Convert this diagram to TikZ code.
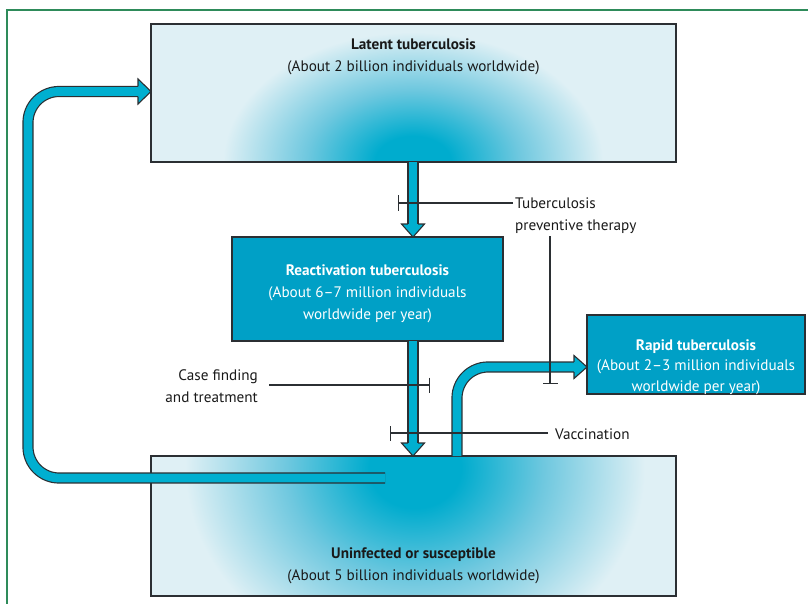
\documentclass[tikz,border=0pt]{standalone}
\usepackage{fontspec}
\setmainfont{PT Sans}
\usetikzlibrary{arrows.meta}
\definecolor{tblight}{HTML}{DFF0F5}
\definecolor{tbteal}{HTML}{00A0C6}
\definecolor{tbglowc}{HTML}{00ACCE}
\definecolor{tbmid}{HTML}{6FC8DF}
\definecolor{tbarrow}{HTML}{00AFD0}
\definecolor{tbedge}{HTML}{2B2F33}
\definecolor{tbframe}{HTML}{2E8B5A}
\pgfdeclareradialshading{tbglow}{\pgfpoint{0bp}{0bp}}{color(0bp)=(tbglowc); color(5bp)=(tbglowc); color(14bp)=(tbmid); color(25bp)=(tblight); color(50bp)=(tblight)}
\tikzset{
  box/.style={draw=tbedge, line width=1.1pt, anchor=north west, inner sep=0pt, outer sep=0pt},
  lightbox/.style={box},
  tealbox/.style={box, fill=tbteal},
  txt/.style={font=\fontsize{15.2}{22}\selectfont, align=center, inner sep=0pt, text=black!90},
  wtxt/.style={txt, text=white},
  shaftout/.style={draw=tbedge, line width=11.2pt, line cap=butt},
  shaftin/.style={draw=tbarrow, line width=8.8pt, line cap=butt},
  headfill/.style={fill=tbarrow},
  headline/.style={draw=tbedge, line width=1.1pt, line join=miter},
  inhib/.style={draw=tbedge, line width=1.2pt, -{Bar[width=15pt,line width=1.3pt]}},
  glow/.style={shading=tbglow}
}
\begin{document}
\begin{tikzpicture}[x=1pt,y=-1pt]
\useasboundingbox (0,0) rectangle (808,604);
% frame
\draw[tbframe, line width=1.2pt] (808,10) -- (7,10) -- (7,604);

% glow backgrounds
\fill[tblight] (151,24) rectangle (676,162);
\begin{scope}
  \clip (151,24) rectangle (676,162);
  \shade[glow] (413,162) ellipse (190 and 130);
\end{scope}
\fill[tblight] (151,456) rectangle (676,596);
\begin{scope}
  \clip (151,456) rectangle (676,596);
  \shade[glow] (415,468) ellipse (230 and 200);
\end{scope}

% boxes
\node[lightbox, minimum width=525pt, minimum height=138pt] (latent) at (151,24) {};
\node[lightbox, minimum width=525pt, minimum height=140pt] (uninf) at (151,456) {};
\node[tealbox, minimum width=271pt, minimum height=104pt] (react) at (232,237) {};
\node[tealbox, minimum width=218pt, minimum height=79pt] (rapid) at (587,315) {};

% texts
\node[txt] (latentT) at (413.5,57) {\textbf{Latent tuberculosis}\\(About 2 billion individuals worldwide)};
\node[wtxt] (reactT) at (367.5,293.5) {\textbf{Reactivation tuberculosis}\\(About 6–7 million individuals\\worldwide per year)};
\node[wtxt, font=\fontsize{15.2}{20.5}\selectfont] (rapidT) at (696,367) {\textbf{Rapid tuberculosis}\\(About 2–3 million individuals\\worldwide per year)};
\node[txt] (uninfT) at (413.5,566) {\textbf{Uninfected or susceptible}\\(About 5 billion individuals worldwide)};
\node[txt, align=left, anchor=west] (tpt) at (515,216) {Tuberculosis\\preventive therapy};
\node[txt, align=right, anchor=east] (cft) at (258,386) {Case finding\\and treatment};
\node[txt, align=left, anchor=west] (vac) at (555,434) {Vaccination};

% coordinates
\coordinate (loopS) at (385,478);
\coordinate (loopB) at (138,91.5);
\coordinate (l2rS) at (latent.south -| 413,0);
\coordinate (l2rB) at (413,224);
\coordinate (r2uS) at (react.south -| 413,0);
\coordinate (r2uB) at (413,443);
\coordinate (rapS) at (uninf.north -| 457,0);
\coordinate (rapB) at (574,367);

% shafts
\foreach \s in {shaftout,shaftin}{
  \draw[\s, rounded corners=31pt] (loopS) -- (28,478) -- (28,91.5) -- (loopB);
  \draw[\s] (l2rS) -- (l2rB);
  \draw[\s] (r2uS) -- (r2uB);
  \draw[\s, rounded corners=31pt] (rapS) -- (457,367) -- (rapB);
}
% heads: loop (right)
\fill[headfill] (138,79) -- (latent.west |- 0,91.5) -- (138,104) -- cycle;
\draw[headline] (138,86.4) -- (138,79) -- (latent.west |- 0,91.5) -- (138,104) -- (138,96.6);
% latent -> react (down)
\fill[headfill] (401.5,224) -- (react.north -| 413,0) -- (424.5,224) -- cycle;
\draw[headline] (407.9,224) -- (401.5,224) -- (react.north -| 413,0) -- (424.5,224) -- (418.1,224);
% react -> uninf (down)
\fill[headfill] (401.5,443) -- (uninf.north -| 413,0) -- (424.5,443) -- cycle;
\draw[headline] (407.9,443) -- (401.5,443) -- (uninf.north -| 413,0) -- (424.5,443) -- (418.1,443);
% rapid (right)
\fill[headfill] (574,355.5) -- (rapid.west |- 0,367) -- (574,378.5) -- cycle;
\draw[headline] (574,361.9) -- (574,355.5) -- (rapid.west |- 0,367) -- (574,378.5) -- (574,372.1);

% inhibitors
\draw[inhib] (tpt.west |- 0,203) ++(-2,0) -- (398,203);
\draw[inhib] (550,236) -- (550,384);
\draw[inhib] (269,385) -- (430,385);
\draw[inhib] (vac.west |- 0,433) ++(-7,0) -- (390,433);
\end{tikzpicture}
\end{document}
